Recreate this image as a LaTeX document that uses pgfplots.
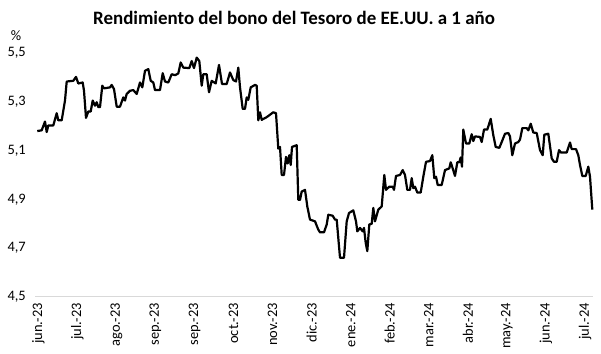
\documentclass[border=0pt]{standalone}
\usepackage{fontspec}
\setmainfont{Carlito}
\usepackage{pgfplots}
\pgfplotsset{compat=1.18}
\begin{document}
\begin{tikzpicture}
\begin{axis}[
  scale only axis, width=558.3bp, height=244bp,
  xmin=35, xmax=593.3, ymin=4.5, ymax=5.5, clip=false,
  axis x line=bottom, axis y line=left,
  x axis line style={draw=black!15, line width=0.8bp, -},
  y axis line style={draw=none},
  major tick length=0pt,
  xtick={38.3,77.35,116.4,155.45,194.5,233.55,272.6,311.65,350.7,389.75,428.8,467.85,506.9,545.95,585.0},
  xticklabels={jun.-23,jul.-23,ago.-23,sep.-23,sep.-23,oct.-23,nov.-23,dic.-23,ene.-24,feb.-24,mar.-24,abr.-24,may.-24,jun.-24,jul.-24},
  xticklabel style={font=\fontsize{14.5}{15}\selectfont, yshift=-7bp, rotate=90, anchor=east, inner sep=0pt},
  ytick={4.5,4.7,4.9,5.1,5.3,5.5},
  yticklabel style={font=\fontsize{14.5}{15}\selectfont, anchor=east, inner sep=0pt, text depth=0pt, xshift=-9bp,
    /pgf/number format/use comma, /pgf/number format/fixed, /pgf/number format/fixed zerofill,
    /pgf/number format/precision=1, /pgf/number format/assume math mode=true},
  title={Rendimiento del bono del Tesoro de EE.UU. a 1 año},
  every axis title/.style={at={(axis description cs:0.464,1.1107)}, anchor=base, inner sep=0pt, font=\bfseries\fontsize{19}{22}\selectfont},
]
\addplot[black, line width=2.2bp, line join=round] coordinates {
(37.3,5.176)(41.7,5.179)(45,5.215)(46.7,5.172)(48.3,5.199)(53.3,5.199)(56.7,5.249)(58.3,5.220)(61.7,5.220)
(65,5.301)(66.7,5.379)(73.3,5.382)(76,5.398)(78.3,5.371)(82.7,5.375)(84,5.341)(86,5.230)(88.3,5.256)
(90.7,5.256)(92.7,5.301)(95,5.280)(96.7,5.294)(98.3,5.274)(100,5.274)(102.3,5.362)(104,5.351)(110,5.355)
(111.7,5.365)(114,5.348)(116.7,5.276)(120,5.276)(123.3,5.314)(125,5.301)(126.7,5.328)(130,5.341)(133.3,5.344)
(136.7,5.328)(140,5.375)(142.3,5.355)(145,5.423)(148.3,5.430)(150.7,5.382)(153.3,5.375)(155,5.344)(160,5.344)
(162.7,5.413)(165,5.379)(168.3,5.375)(171.7,5.409)(175,5.405)(178.3,5.412)(180.7,5.457)(183.3,5.436)
(189.3,5.434)(191.7,5.463)(194,5.434)(196.7,5.477)(199.3,5.463)(201.7,5.362)(203.3,5.409)(206.7,5.409)
(209,5.335)(211.7,5.382)(215.7,5.371)(219,5.447)(222,5.369)(226.7,5.369)(230,5.416)(233.3,5.385)(236,5.379)
(238.3,5.436)(240,5.355)(242.7,5.267)(245,5.267)(246.7,5.314)(248.3,5.304)(250.7,5.355)(255,5.365)
(256.7,5.362)(258.3,5.220)(260,5.253)(261.7,5.222)(266.7,5.233)(273.3,5.253)(276,5.249)(278.3,5.104)
(280,5.111)(281.7,4.996)(284,4.996)(286,5.070)(287.7,5.043)(289.3,5.077)(290.7,5.037)(292,5.111)(296.7,5.118)
(298.3,4.894)(300,4.894)(301.7,4.928)(305,4.935)(307.3,4.867)(310,4.813)(315,4.806)(318.3,4.772)(320,4.761)
(324,4.761)(326.7,4.793)(328.3,4.833)(332.7,4.829)(335,4.813)(336.7,4.813)(340,4.657)(344,4.657)(346.7,4.806)
(349,4.840)(353.3,4.851)(356,4.806)(357.3,4.765)(360,4.779)(362.7,4.765)(364,4.779)(365.7,4.718)(367.3,4.684)
(369.3,4.793)(371.7,4.796)(373.3,4.861)(375,4.806)(378.3,4.854)(381.7,4.867)(384.3,4.996)(386,4.935)
(389.3,4.948)(392.7,4.948)(394,4.935)(396,4.992)(400,4.996)(402.7,5.016)(405,4.996)(407.3,4.935)(410,4.935)
(411.7,4.983)(413.3,4.942)(415,4.948)(417.3,4.924)(420.7,4.924)(423.3,4.989)(426,5.050)(430,5.053)(432.3,5.077)
(434.3,4.983)(436,4.989)(437.7,4.955)(441.7,4.955)(445,5.016)(449.3,5.023)(450.7,5.048)(452.7,5.023)(455,4.992)
(457.3,5.048)(459.3,5.048)(460.7,5.068)(462,5.030)(463.3,5.182)(466,5.125)(469.3,5.125)(471.7,5.163)
(473.3,5.135)(475,5.154)(480,5.152)(481.7,5.131)(484,5.182)(487.3,5.182)(490.7,5.226)(493.3,5.159)
(495.7,5.111)(499.3,5.107)(501.7,5.131)(505,5.165)(508.3,5.168)(510,5.154)(512.3,5.077)(515,5.125)
(518.3,5.131)(520,5.141)(522.3,5.188)(526.7,5.188)(528.3,5.179)(530.7,5.206)(533.3,5.170)(536.7,5.168)
(540,5.098)(542.7,5.077)(544.3,5.161)(548.3,5.165)(551.7,5.064)(554,5.050)(556.7,5.050)(559,5.098)
(561,5.088)(566.7,5.088)(570,5.129)(571.7,5.102)(576,5.102)(578.3,5.077)(580,5.037)(582.3,4.992)
(585.7,4.992)(588.3,5.030)(590,4.989)(592.3,4.854)
};
\node[font=\fontsize{14.5}{15}\selectfont, anchor=center, text depth=0pt] at (axis description cs:-0.034,1.067) {\%};
\end{axis}
\pgfresetboundingbox
\path[use as bounding box] (-35bp,-58bp) rectangle (566bp,296bp);
\end{tikzpicture}
\end{document}
